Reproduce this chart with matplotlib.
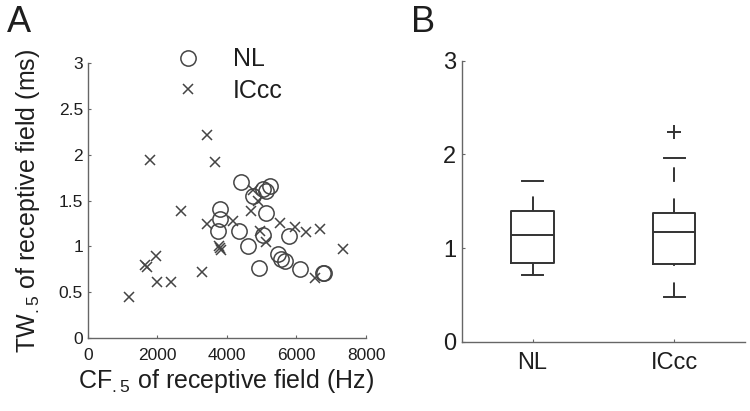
import matplotlib
matplotlib.use("Agg")
import matplotlib.pyplot as plt
from matplotlib.lines import Line2D

plt.rcParams['font.family'] = ['Liberation Sans', 'DejaVu Sans']
plt.rcParams['mathtext.default'] = 'regular'

# ---- Panel A data: CF.5 (Hz) vs TW.5 (ms)
nl_cf = [4417, 4752, 5039, 5231, 5125, 3794, 3794, 3745, 4349, 4607,
         5039, 5135, 5786, 5470, 5566, 5662, 4924, 6093, 6763, 6790]
nl_tw = [1.70, 1.55, 1.63, 1.66, 1.60, 1.41, 1.30, 1.17, 1.17, 1.00,
         1.12, 1.36, 1.11, 0.92, 0.86, 0.84, 0.76, 0.75, 0.71, 0.71]

iccc_cf = [1187, 1687, 1640, 1954, 1974, 2377, 2664, 1782, 3430, 3650,
           3411, 3267, 3794, 3830, 3780, 4177, 4704, 4742, 4943, 5135,
           5518, 5949, 6285, 6688, 6524, 7329, 4900]
iccc_tw = [0.45, 0.78, 0.80, 0.90, 0.61, 0.61, 1.39, 1.94, 2.22, 1.92,
           1.24, 0.72, 0.98, 0.96, 1.00, 1.28, 1.39, 1.62, 1.17, 1.05,
           1.26, 1.21, 1.16, 1.19, 0.65, 0.97, 1.50]

# ---- Panel B box statistics
groups = ['NL', 'ICcc']
box_med = [1.14, 1.167]
box_q1 = [0.843, 0.829]
box_q3 = [1.40, 1.377]
box_whislo = [0.71, 0.473]
box_whishi = [1.715, 1.957]
box_fliers = [[], [2.235]]

a_xticks = [0, 2000, 4000, 6000, 8000]
a_yticks = [0, 0.5, 1, 1.5, 2, 2.5, 3]
a_yticklabels = ['0', '0.5', '1', '1.5', '2', '2.5', '3']
b_yticks = [0, 1, 2, 3]

ink = '#1e1e1e'
mark = '#444444'
spine = '#666666'

fig = plt.figure(figsize=(7.5, 4.11), dpi=100)

# ---------------- Panel A
axA = fig.add_axes([0.1173, 0.1776, 0.3707, 0.669])
axA.plot(nl_cf, nl_tw, linestyle='none', marker='o', markersize=11,
         markerfacecolor='none', markeredgecolor=mark, markeredgewidth=1.1)
axA.plot(iccc_cf, iccc_tw, linestyle='none', marker='x', markersize=7.5,
         color=mark, markeredgewidth=1.1)
axA.set_xlim(0, 8000)
axA.set_ylim(0, 3)
axA.set_xticks(a_xticks)
axA.set_xticklabels([str(v) for v in a_xticks])
axA.set_yticks(a_yticks)
axA.set_yticklabels(a_yticklabels)
for s in ['top', 'right']:
    axA.spines[s].set_visible(False)
for s in ['left', 'bottom']:
    axA.spines[s].set_color(spine)
    axA.spines[s].set_linewidth(1.0)
axA.tick_params(axis='both', direction='in', length=2.5, width=0.8,
                color=spine, labelsize=12.5, labelcolor=ink)
axA.tick_params(axis='x', pad=7)
axA.tick_params(axis='y', pad=3.5)
axA.set_xlabel(r'CF$_{.5}$ of receptive field (Hz)', fontsize=18,
               color=ink)
axA.xaxis.set_label_coords(0.498, -0.105)
axA.set_ylabel(r'TW$_{.5}$ of receptive field (ms)', fontsize=18,
               color=ink)
axA.yaxis.set_label_coords(-0.165, 0.5)

handles = [Line2D([], [], linestyle='none', marker='o', markersize=11,
                  markerfacecolor='none', markeredgecolor=mark,
                  markeredgewidth=1.1),
           Line2D([], [], linestyle='none', marker='x', markersize=7.5,
                  color=mark, markeredgewidth=1.1)]
leg = axA.legend(handles, groups, loc='upper left',
                 bbox_to_anchor=(0.315, 1.057), frameon=False, fontsize=18,
                 handlelength=1.0, handletextpad=1.3, labelspacing=0.29,
                 borderpad=0, borderaxespad=0)
for t in leg.get_texts():
    t.set_color(ink)

fig.text(0.009, 0.922, 'A', fontsize=26, color=ink, va='baseline', ha='left')

# ---------------- Panel B
axB = fig.add_axes([0.6156, 0.1686, 0.3777, 0.6835])
stats = []
for i, g in enumerate(groups):
    stats.append(dict(label=g, med=box_med[i], q1=box_q1[i], q3=box_q3[i],
                      whislo=box_whislo[i], whishi=box_whishi[i],
                      fliers=box_fliers[i]))
bp = axB.bxp(stats, positions=[1, 2], widths=0.3, capwidths=0.15,
             showfliers=True,
             boxprops=dict(color='#333333', linewidth=1.4),
             medianprops=dict(color='#333333', linewidth=1.4),
             whiskerprops=dict(color='#333333', linewidth=1.4,
                               linestyle=(0, (7.5, 8.5))),
             capprops=dict(color='#333333', linewidth=1.4),
             flierprops=dict(marker='+', markersize=10,
                             markeredgecolor='#333333', markeredgewidth=1.4))
# dashes of the lower whiskers start at their far end
for w in bp['whiskers'][0::2]:
    w.set_ydata(list(w.get_ydata())[::-1])

axB.set_xlim(0.5, 2.5)
axB.set_ylim(0, 3)
axB.set_yticks(b_yticks)
axB.set_yticklabels([str(v) for v in b_yticks])
axB.set_xticks([1, 2])
axB.set_xticklabels(groups)
for s in ['top', 'right']:
    axB.spines[s].set_visible(False)
for s in ['left', 'bottom']:
    axB.spines[s].set_color(spine)
    axB.spines[s].set_linewidth(1.0)
axB.tick_params(axis='both', direction='in', length=2.5, width=0.8,
                color=spine, labelsize=17, labelcolor=ink)
axB.tick_params(axis='x', pad=7.5)
axB.tick_params(axis='y', pad=4)

fig.text(0.548, 0.922, 'B', fontsize=26, color=ink, va='baseline', ha='left')

fig.savefig('out.png', dpi=100)
